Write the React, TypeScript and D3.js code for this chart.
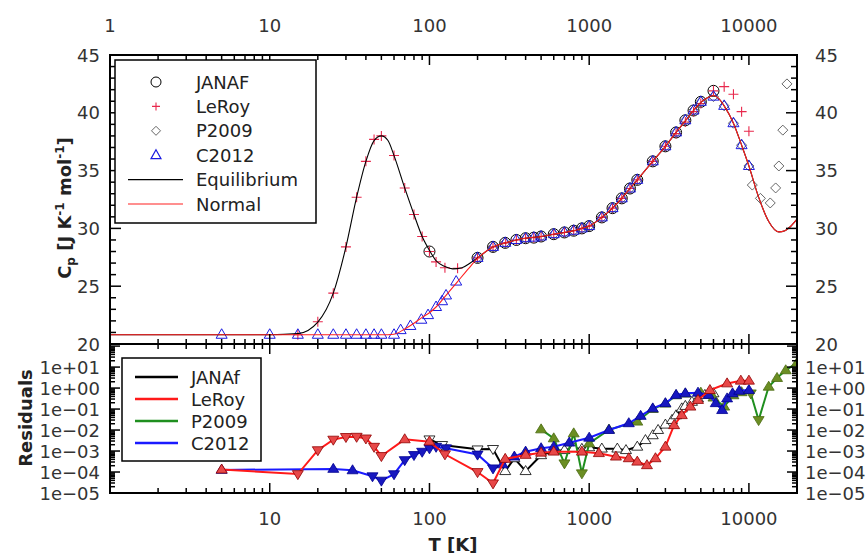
import React from 'react';
import * as d3 from 'd3';

const W = 868;
const H = 555;

// ---------- Top panel data (T [K], Cp [J K-1 mol-1]) ----------
const normalT = [1, 10, 50, 60, 70, 80, 90, 100, 110, 125, 150, 175, 200, 250, 300, 350, 400, 500, 600, 700, 800, 900, 1000, 1200, 1400, 1600, 1800, 2000, 2500, 3000, 3500, 4000, 4500, 5000, 5500, 6000, 6500, 7000, 8000, 9000, 10000, 11500, 13300, 15400, 16800, 18000, 20000];
const normalCp = [20.8, 20.8, 20.8, 20.85, 21.3, 21.8, 22.3, 22.7, 23.2, 24.1, 25.4, 26.5, 27.4, 28.4, 28.75, 29.0, 29.15, 29.3, 29.5, 29.65, 29.8, 30.0, 30.2, 30.95, 31.75, 32.6, 33.45, 34.2, 35.8, 37.1, 38.3, 39.3, 40.2, 40.9, 41.3, 41.5, 41.2, 40.6, 39.1, 37.2, 35.4, 32.7, 30.6, 29.7, 29.8, 30.1, 30.8];

const eqLowT = [1, 10, 15, 20, 25, 30, 35, 40, 45, 50, 55, 60, 70, 80, 90, 100, 110, 125, 140, 160, 180, 200];
const eqLowCp = [20.8, 20.8, 20.9, 21.9, 24.4, 28.4, 32.7, 35.8, 37.6, 38.0, 37.6, 36.3, 33.5, 31.2, 29.3, 28.1, 27.2, 26.7, 26.5, 26.6, 27.0, 27.45];

const janafT = [100, 200, 250, 298, 350, 400, 450, 500, 600, 700, 800, 900, 1000, 1200, 1400, 1600, 1800, 2000, 2500, 3000, 3500, 4000, 4500, 5000, 6000];
const janafCp = [28.0, 27.45, 28.4, 28.75, 29.0, 29.15, 29.2, 29.3, 29.5, 29.65, 29.8, 30.0, 30.2, 30.95, 31.75, 32.6, 33.45, 34.2, 35.8, 37.1, 38.3, 39.35, 40.2, 40.95, 41.9];

const leroyT = [15, 20, 25, 30, 35, 40, 45, 50, 60, 70, 80, 90, 100, 110, 125, 150, 200, 250, 300, 350, 400, 450, 500, 600, 700, 800, 900, 1000, 1200, 1400, 1600, 1800, 2000, 2500, 3000, 3500, 4000, 4500, 5000, 6000, 7000, 8000, 9000, 10000];
const leroyCp = [20.8, 21.93, 24.4, 28.4, 32.7, 35.8, 37.7, 38.0, 36.3, 33.5, 31.2, 29.3, 28.0, 27.1, 26.6, 26.55, 27.45, 28.4, 28.75, 29.0, 29.15, 29.2, 29.3, 29.5, 29.65, 29.8, 30.0, 30.2, 30.95, 31.75, 32.6, 33.45, 34.2, 35.8, 37.1, 38.2, 39.2, 40.1, 40.8, 41.9, 42.26, 41.6, 40.1, 38.4];

const p2009T = [200, 250, 298, 400, 500, 600, 700, 800, 900, 1000, 1200, 1400, 1600, 1800, 2000, 2500, 3000, 3500, 4000, 4500, 5000, 6000, 7000, 8000, 9000, 10000, 10500, 11800, 13600, 14700, 15400, 16300, 17300];
const p2009Cp = [27.45, 28.4, 28.75, 29.15, 29.3, 29.5, 29.65, 29.8, 30.0, 30.2, 30.95, 31.75, 32.6, 33.45, 34.2, 35.8, 37.1, 38.3, 39.35, 40.2, 40.95, 41.4, 40.6, 39.1, 37.2, 35.4, 33.75, 32.6, 32.2, 33.5, 35.4, 38.5, 42.5];

const c2012T = [5, 10, 15, 20, 25, 30, 35, 40, 45, 50, 60, 66, 76, 89, 98, 110, 120, 127, 147, 200, 250, 298, 350, 400, 450, 500, 600, 700, 800, 900, 1000, 1200, 1400, 1600, 1800, 2000, 2500, 3000, 3500, 4000, 4500, 5000, 6000, 7000, 8000, 9000, 10000];
const c2012Cp = [20.8, 20.8, 20.8, 20.8, 20.8, 20.8, 20.8, 20.8, 20.8, 20.8, 20.8, 21.2, 21.56, 22.1, 22.5, 23.2, 23.7, 24.2, 25.4, 27.45, 28.4, 28.75, 29.0, 29.15, 29.2, 29.3, 29.5, 29.65, 29.8, 30.0, 30.2, 30.95, 31.75, 32.6, 33.45, 34.2, 35.8, 37.1, 38.3, 39.35, 40.2, 40.95, 41.4, 40.6, 39.1, 37.2, 35.4];

// ---------- Residuals (sign: 1 = up marker, -1 = down marker) ----------
const resJanafT = [100, 120, 200, 250, 298, 340, 400, 500, 600, 700, 800, 900, 1000, 1200, 1500, 1700, 2000, 2250, 2500, 2700, 3000, 3300, 3500, 3800, 4000, 4400, 4800, 5300, 6000];
const resJanafV = [3.6e-3, 1.95e-3, 1.2e-3, 1.26e-3, 1.1e-4, 4.5e-4, 1.1e-4, 6.3e-4, 1.0e-3, 1.1e-3, 1.4e-3, 1.26e-3, 1.5e-3, 1.3e-3, 1.3e-3, 1.1e-3, 1.6e-3, 3.3e-3, 5.6e-3, 1.0e-2, 1.8e-2, 3.0e-2, 5.0e-2, 0.107, 0.14, 0.22, 0.32, 0.47, 0.56];
const resJanafS = [-1, -1, -1, -1, 1, 1, 1, 1, 1, 1, 1, 1, 1, 1, 1, 1, 1, 1, 1, 1, 1, 1, 1, 1, 1, 1, 1, 1, 1];

const resLeroyT = [5, 15, 20, 25, 30, 35, 40, 45, 50, 70, 100, 125, 200, 250, 298, 400, 500, 600, 900, 1150, 1470, 1770, 2000, 2300, 2600, 3000, 3400, 3800, 4300, 4800, 5700, 7300, 8900, 10000];
const resLeroyV = [1.3e-4, 8e-5, 1.1e-3, 3.5e-3, 4.7e-3, 4.8e-3, 4e-3, 1.6e-3, 5.8e-4, 3.6e-3, 2.8e-3, 7e-4, 1e-4, 2.9e-5, 4.2e-4, 6.5e-4, 8.3e-4, 9.3e-4, 9.3e-4, 7.9e-4, 5.4e-4, 4.5e-4, 3.1e-4, 2.1e-4, 4.5e-4, 1.6e-3, 1.7e-2, 5.1e-2, 0.13, 0.27, 0.8, 1.66, 2.24, 2.24];
const resLeroyS = [1, -1, -1, -1, -1, -1, -1, -1, -1, 1, 1, -1, -1, -1, 1, 1, 1, 1, 1, 1, 1, 1, 1, 1, 1, 1, 1, 1, 1, 1, 1, 1, 1, 1];

const resP2009T = [500, 600, 700, 800, 900, 1000, 1330, 2000, 2500, 3000, 3500, 4000, 5000, 6000, 7000, 8000, 9000, 10270, 11500, 13300, 15000, 17000, 20000];
const resP2009V = [1.07e-2, 4e-3, 2.6e-4, 6.9e-3, 8.7e-5, 2.3e-3, 1.05e-2, 2.5e-2, 0.1, 0.18, 0.45, 0.54, 0.6, 0.35, 0.13, 0.45, 0.63, 0.56, 0.03, 1.15, 3.0, 7.0, 16];
const resP2009S = [1, 1, -1, 1, -1, 1, 1, 1, 1, 1, 1, 1, 1, 1, 1, 1, 1, -1, -1, 1, 1, 1, 1];

const resC2012T = [5, 25, 33, 44, 50, 60, 70, 80, 90, 100, 110, 127, 200, 250, 287, 340, 400, 500, 600, 750, 1000, 1330, 1770, 2100, 2500, 3000, 3500, 4000, 4800, 5600, 6200, 6800, 7300, 7900, 8700, 10000];
const resC2012V = [1.26e-4, 1.4e-4, 1.2e-4, 6.3e-5, 3.9e-5, 7.9e-5, 3.7e-4, 6.5e-4, 9.3e-4, 1.35e-3, 1.6e-3, 1.35e-3, 6.8e-4, 1.5e-4, 2.3e-4, 5.4e-4, 9.3e-4, 1.35e-3, 1.6e-3, 2.5e-3, 4.3e-3, 1.0e-2, 2.1e-2, 4.7e-2, 0.107, 0.19, 0.47, 0.56, 0.6, 0.47, 0.19, 0.089, 0.32, 0.56, 0.74, 0.8];
const resC2012S = [1, 1, 1, -1, -1, -1, -1, -1, -1, -1, -1, -1, -1, -1, 1, 1, 1, 1, 1, 1, 1, 1, 1, 1, 1, 1, 1, 1, 1, 1, 1, 1, 1, 1, 1, 1];

const topTickLabels = ['1', '10', '100', '1000', '10000'];
const bottomTickLabels = ['10', '100', '1000', '10000'];
const cpTickLabels = ['20', '25', '30', '35', '40', '45'];
const resTickLabels = ['1e-05', '1e-04', '1e-03', '1e-02', '1e-01', '1e+00', '1e+01'];

const topLegend = ['JANAF', 'LeRoy', 'P2009', 'C2012', 'Equilibrium', 'Normal'];
const botLegend = ['JANAf', 'LeRoy', 'P2009', 'C2012'];

const FONT = "'DejaVu Sans', sans-serif";

const zip = (a: number[], b: number[]) => a.map((v, i) => [v, b[i]] as [number, number]);

function triPath(cx: number, cy: number, s: number, dir: number) {
  const h = s * 0.9;
  if (dir > 0) {
    return `M${cx},${cy - h * 0.62}L${cx + s * 0.55},${cy + h * 0.38}L${cx - s * 0.55},${cy + h * 0.38}Z`;
  }
  return `M${cx},${cy + h * 0.62}L${cx + s * 0.55},${cy - h * 0.38}L${cx - s * 0.55},${cy - h * 0.38}Z`;
}

export default function App() {
  const L = 110, R = 797, T0 = 55, MID = 344, B = 493;
  const x = d3.scaleLog().domain([1, 20000]).range([L, R]);
  const yTop = d3.scaleLinear().domain([20, 45]).range([MID, T0]);
  const yBot = d3.scaleLog().domain([1e-5, Math.pow(10, 2.1)]).range([B, MID]);

  const topLine = d3.line<[number, number]>().x(d => x(d[0])).y(d => yTop(d[1])).curve(d3.curveMonotoneX);
  const resLine = d3.line<[number, number]>().x(d => x(d[0])).y(d => yBot(d[1]));

  const normal = zip(normalT, normalCp);
  const eq = zip(eqLowT, eqLowCp).concat(normal.filter(d => d[0] > 200));

  const xt = x.ticks();
  const isMajorX = (t: number) => Math.abs(Math.log10(t) - Math.round(Math.log10(t))) < 1e-9;
  const ytTop = yTop.ticks(25);
  const ytBot = yBot.ticks().filter(t => t >= 1e-5 && t <= 100);
  const isMajorY = (t: number) => Math.abs(Math.log10(t) - Math.round(Math.log10(t))) < 1e-9;

  const tickEls: React.ReactNode[] = [];
  xt.forEach((t, i) => {
    const px = x(t);
    const len = isMajorX(t) ? 10 : 5;
    tickEls.push(<line key={`xt${i}`} x1={px} x2={px} y1={T0} y2={T0 + len} />);
    tickEls.push(<line key={`xm1${i}`} x1={px} x2={px} y1={MID} y2={MID - len} />);
    tickEls.push(<line key={`xm2${i}`} x1={px} x2={px} y1={MID} y2={MID + len} />);
    tickEls.push(<line key={`xb${i}`} x1={px} x2={px} y1={B} y2={B - len} />);
  });
  ytTop.forEach((t, i) => {
    const py = yTop(t);
    const len = t % 5 === 0 ? 11 : 6;
    tickEls.push(<line key={`yl${i}`} x1={L} x2={L + len} y1={py} y2={py} />);
    tickEls.push(<line key={`yr${i}`} x1={R} x2={R - len} y1={py} y2={py} />);
  });
  ytBot.forEach((t, i) => {
    const py = yBot(t);
    const len = isMajorY(t) ? 10 : 5;
    tickEls.push(<line key={`bl${i}`} x1={L} x2={L + len} y1={py} y2={py} />);
    tickEls.push(<line key={`br${i}`} x1={R} x2={R - len} y1={py} y2={py} />);
  });

  const resSeries = [
    { T: resJanafT, V: resJanafV, S: resJanafS, line: '#000000', fill: '#ffffff', stroke: '#000000' },
    { T: resP2009T, V: resP2009V, S: resP2009S, line: '#1f8f1f', fill: '#6b8e23', stroke: '#4a6a10' },
    { T: resC2012T, V: resC2012V, S: resC2012S, line: '#1a1aff', fill: '#1818c0', stroke: '#000090' },
    { T: resLeroyT, V: resLeroyV, S: resLeroyS, line: '#ff1a1a', fill: '#e84848', stroke: '#900000' },
  ];

  const crimson = '#e8284c';

  return (
    <svg width={W} height={H} style={{ position: 'absolute', left: 0, top: 0, background: '#fff' }} fontFamily={FONT}>
      <defs>
        <clipPath id="clipTop"><rect x={L} y={T0} width={R - L} height={MID - T0} /></clipPath>
        <clipPath id="clipBot"><rect x={L} y={MID} width={R - L} height={B - MID} /></clipPath>
      </defs>
      <rect x={0} y={0} width={W} height={H} fill="#fff" />

      {/* top panel markers */}
      <g clipPath="url(#clipTop)">
        {zip(janafT, janafCp).map((d, i) => (
          <circle key={`j${i}`} cx={x(d[0])} cy={yTop(d[1])} r={5.5} fill="none" stroke="#000" strokeWidth={1} />
        ))}
        {zip(leroyT, leroyCp).map((d, i) => {
          const cx = x(d[0]), cy = yTop(d[1]);
          return <path key={`l${i}`} d={`M${cx - 5},${cy}H${cx + 5}M${cx},${cy - 5}V${cy + 5}`} stroke={crimson} strokeWidth={1.1} />;
        })}
        {zip(p2009T, p2009Cp).map((d, i) => {
          const cx = x(d[0]), cy = yTop(d[1]);
          return <path key={`p${i}`} d={`M${cx},${cy - 5}L${cx + 5},${cy}L${cx},${cy + 5}L${cx - 5},${cy}Z`} fill="none" stroke="#555" strokeWidth={0.9} />;
        })}
        {zip(c2012T, c2012Cp).map((d, i) => {
          const cx = x(d[0]), cy = yTop(d[1]);
          return <path key={`c${i}`} d={`M${cx},${cy - 6}L${cx + 5.5},${cy + 3.5}L${cx - 5.5},${cy + 3.5}Z`} fill="none" stroke="#1a1ae0" strokeWidth={1} />;
        })}
        <path d={topLine(eq) || ''} fill="none" stroke="#000" strokeWidth={1.1} />
        <path d={topLine(normal) || ''} fill="none" stroke="#ff2020" strokeWidth={1.1} />
      </g>

      {/* residual panel */}
      <g clipPath="url(#clipBot)">
        {resSeries.map((s, k) => (
          <g key={`rs${k}`}>
            <path d={resLine(zip(s.T, s.V)) || ''} fill="none" stroke={s.line} strokeWidth={2} />
            {s.T.map((t, i) => (
              <path key={i} d={triPath(x(t), yBot(s.V[i]), 10, s.S[i])} fill={s.fill} stroke={s.stroke} strokeWidth={0.8} />
            ))}
          </g>
        ))}
      </g>

      {/* frames and ticks */}
      <g stroke="#000" strokeWidth={1.5} fill="none">
        {tickEls}
      </g>
      <rect x={L} y={T0} width={R - L} height={MID - T0} fill="none" stroke="#000" strokeWidth={2} />
      <rect x={L} y={MID} width={R - L} height={B - MID} fill="none" stroke="#000" strokeWidth={2} />

      {/* tick labels */}
      <g fontSize={18} fill="#333">
        {topTickLabels.map((s, i) => (
          <text key={`tt${i}`} x={x(+s)} y={25} textAnchor="middle" dominantBaseline="central">{s}</text>
        ))}
        {bottomTickLabels.map((s, i) => (
          <text key={`bt${i}`} x={x(+s)} y={518} textAnchor="middle" dominantBaseline="central">{s}</text>
        ))}
        {cpTickLabels.map((s, i) => (
          <text key={`cl${i}`} x={100} y={yTop(+s)} textAnchor="end" dominantBaseline="central">{s}</text>
        ))}
        {cpTickLabels.map((s, i) => (
          <text key={`cr${i}`} x={815} y={yTop(+s)} textAnchor="start" dominantBaseline="central">{s}</text>
        ))}
        {resTickLabels.map((s, i) => (
          <text key={`rl${i}`} x={100} y={yBot(+s)} textAnchor="end" dominantBaseline="central">{s.replace('-', '\u2212')}</text>
        ))}
        {resTickLabels.map((s, i) => (
          <text key={`rr${i}`} x={805} y={yBot(+s)} textAnchor="start" dominantBaseline="central">{s.replace('-', '\u2212')}</text>
        ))}
      </g>

      {/* axis titles */}
      <g fontWeight="bold" fill="#222" fontSize={18}>
        <text transform="translate(71,208) rotate(-90)" textAnchor="middle">
          C<tspan fontSize={12} dy={4}>p</tspan><tspan dy={-4}> [J K</tspan><tspan fontSize={12} dy={-7}>-1</tspan><tspan dy={7}> mol</tspan><tspan fontSize={12} dy={-7}>-1</tspan><tspan dy={7}>]</tspan>
        </text>
        <text transform="translate(32,418) rotate(-90)" textAnchor="middle">Residuals</text>
        <text x={453} y={551} textAnchor="middle">T [K]</text>
      </g>

      {/* top legend */}
      <rect x={115} y={60} width={201} height={163} fill="#fff" stroke="#000" strokeWidth={1.5} />
      <g fontSize={18} fill="#222">
        {topLegend.map((s, i) => (
          <text key={`tl${i}`} x={196} y={82 + i * 24.4} dominantBaseline="central">{s}</text>
        ))}
      </g>
      <circle cx={156} cy={82} r={5} fill="none" stroke="#000" strokeWidth={1} />
      <path d={`M152,106.4H160M156,102.4V110.4`} stroke={crimson} strokeWidth={1.1} />
      <path d={`M156,126.3L160.5,130.8L156,135.3L151.5,130.8Z`} fill="none" stroke="#555" strokeWidth={0.9} />
      <path d={`M156,149.7L161,158.7L151,158.7Z`} fill="none" stroke="#1a1ae0" strokeWidth={1.2} />
      <line x1={128} x2={183} y1={179.6} y2={179.6} stroke="#000" strokeWidth={1.1} />
      <line x1={128} x2={183} y1={204} y2={204} stroke="#ff2020" strokeWidth={1.1} />

      {/* bottom legend */}
      <rect x={122} y={358} width={139} height={103} fill="#fff" stroke="#000" strokeWidth={1.5} />
      {botLegend.map((s, i) => {
        const cy = 377 + i * 22;
        const col = [resSeries[0].line, resSeries[3].line, resSeries[1].line, resSeries[2].line][i];
        return (
          <g key={`bl${i}`}>
            <line x1={135} x2={178} y1={cy} y2={cy} stroke={col} strokeWidth={2.5} />
            <text x={191} y={cy} fontSize={18} fill="#222" dominantBaseline="central">{s}</text>
          </g>
        );
      })}
    </svg>
  );
}
